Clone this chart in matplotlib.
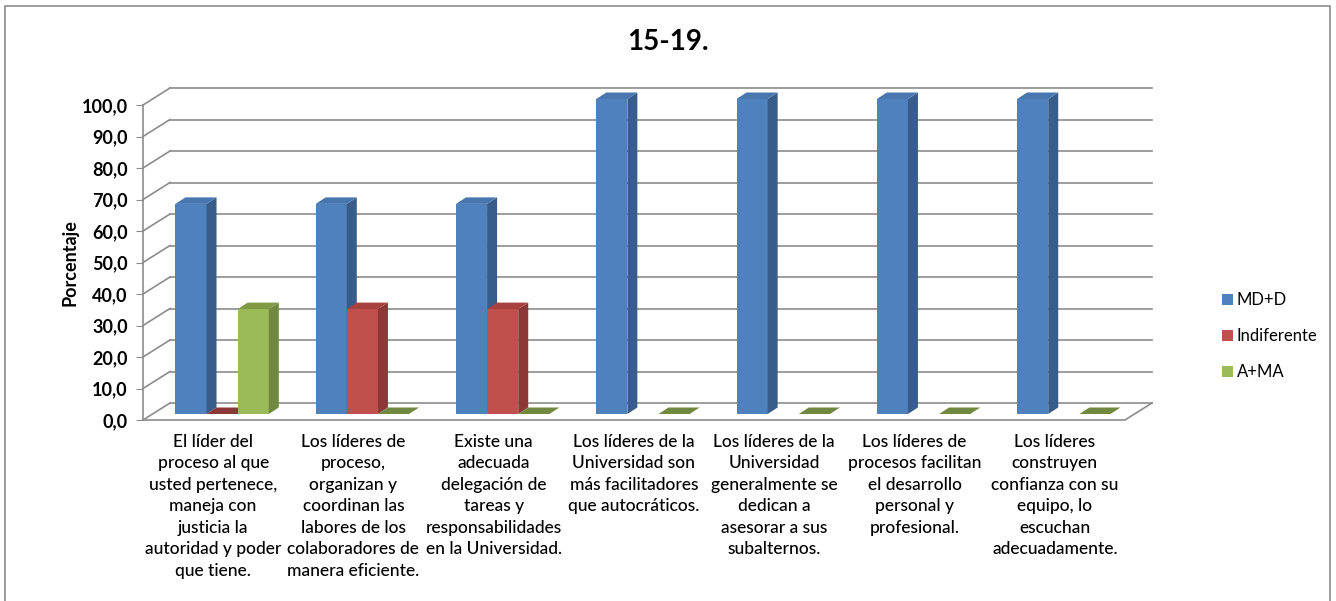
import matplotlib
matplotlib.use("Agg")
import matplotlib.pyplot as plt
from matplotlib.patches import Polygon, Patch, Rectangle
import numpy as np

plt.rcParams['font.family'] = ['Lato', 'DejaVu Sans']

categories = [
    "El líder del\nproceso al que\nusted pertenece,\nmaneja con\njusticia la\nautoridad y poder\nque tiene.",
    "Los líderes de\nproceso,\norganizan y\ncoordinan las\nlabores de los\ncolaboradores de\nmanera eficiente.",
    "Existe una\nadecuada\ndelegación de\ntareas y\nresponsabilidades\nen la Universidad.",
    "Los líderes de la\nUniversidad son\nmás facilitadores\nque autocráticos.",
    "Los líderes de la\nUniversidad\ngeneralmente se\ndedican a\nasesorar a sus\nsubalternos.",
    "Los líderes de\nprocesos facilitan\nel desarrollo\npersonal y\nprofesional.",
    "Los líderes\nconstruyen\nconfianza con su\nequipo, lo\nescuchan\nadecuadamente.",
]
series_names = ["MD+D", "Indiferente", "A+MA"]
md_d = [66.7, 66.7, 66.7, 100.0, 100.0, 100.0, 100.0]
# blank cells (nan) are not drawn at all
indiferente = [0.0, 33.3, 33.3, np.nan, np.nan, np.nan, np.nan]
a_ma = [33.3, 0.0, 0.0, 0.0, 0.0, 0.0, 0.0]
yticks = np.arange(0, 101, 10)

front_c = ["#4F81BD", "#C0504D", "#9BBB59"]
side_c = ["#385D8A", "#8C3836", "#71893F"]
top_c = ["#4876AE", "#A8423F", "#7F9A45"]

fig = plt.figure(figsize=(13.36, 6.01), dpi=100)
fig.patch.set_facecolor("white")
fig.patches.append(Rectangle((5 / 1336, -0.05), 1325 / 1336, 1 - 6 / 601 + 0.05,
                             transform=fig.transFigure, fill=False,
                             edgecolor="#8c8c8c", lw=1.2))

ax = fig.add_axes([143 / 1336, (601 - 420) / 601, 982 / 1336, 315 / 601])
ax.set_xlim(0, 7)
ax.set_ylim(0, 100)
ax.patch.set_visible(False)
for s in ["top", "right", "bottom"]:
    ax.spines[s].set_visible(False)
ax.spines["left"].set_color("#8c8c8c")
ax.spines["left"].set_linewidth(1.2)

ax.set_yticks(yticks)
ax.set_yticklabels([f"{v:.1f}".replace(".", ",") for v in yticks],
                   fontsize=13, fontweight="bold")
ax.tick_params(axis="y", length=5, color="#8c8c8c", pad=6)
ax.set_xticks(np.arange(7) + 0.5)
ax.set_xticklabels(categories, fontsize=12.5, fontweight="medium",
                   linespacing=1.42, va="top")
ax.tick_params(axis="x", length=0, pad=10)
ax.set_ylabel("Porcentaje", fontsize=13, fontweight="bold", labelpad=2)

inv = ax.transData.inverted()


def proj(x, v, dx, dy):
    px, py = ax.transData.transform((x, v))
    return inv.transform((px + dx, py + dy))


floor_d = (27, 17)
bar_f = (9.5, 6)
bar_b = (19.5, 12.5)

# back wall gridlines and left wall diagonals
for v in yticks:
    a = proj(0, v, *floor_d)
    b = proj(7, v, *floor_d)
    ax.plot([a[0], b[0]], [a[1], b[1]], color="#8c8c8c", lw=1.2, clip_on=False, zorder=1)
    ax.plot([0, a[0]], [v, a[1]], color="#8c8c8c", lw=1.2, clip_on=False, zorder=1)

# floor
fr = proj(7, 0, *floor_d)
ax.plot([0, 7, fr[0]], [0, 0, fr[1]], color="#8c8c8c", lw=1.2, clip_on=False, zorder=1)

# bars
w = 0.222
start = 0.163
data = [md_d, indiferente, a_ma]
for i in range(len(categories)):
    for j, vals in enumerate(data):
        v = vals[i]
        if np.isnan(v):
            continue
        x0 = i + start + j * w
        x1 = x0 + w
        f = [proj(x0, 0, *bar_f), proj(x1, 0, *bar_f), proj(x1, v, *bar_f), proj(x0, v, *bar_f)]
        s = [proj(x1, 0, *bar_f), proj(x1, 0, *bar_b), proj(x1, v, *bar_b), proj(x1, v, *bar_f)]
        t = [proj(x0, v, *bar_f), proj(x1, v, *bar_f), proj(x1, v, *bar_b), proj(x0, v, *bar_b)]
        if v > 0:
            ax.add_patch(Polygon(f, closed=True, fc=front_c[j], ec="none", clip_on=False, zorder=2))
            ax.add_patch(Polygon(s, closed=True, fc=side_c[j], ec="none", clip_on=False, zorder=2))
        ax.add_patch(Polygon(t, closed=True, fc=top_c[j] if v > 0 else side_c[j],
                             ec="none", clip_on=False, zorder=2))

handles = [Patch(fc=c, ec="none") for c in front_c]
fig.legend(handles, series_names, loc="center left", bbox_to_anchor=(1207 / 1336, 1 - 336 / 601),
           frameon=False, fontsize=12, handlelength=0.65, handleheight=0.65,
           handletextpad=0.25, labelspacing=1.2)

fig.text(668 / 1336, 1 - 42 / 601, "15-19.", ha="center", va="center",
         fontsize=20, fontweight="bold")

fig.savefig("out.png", dpi=100)
